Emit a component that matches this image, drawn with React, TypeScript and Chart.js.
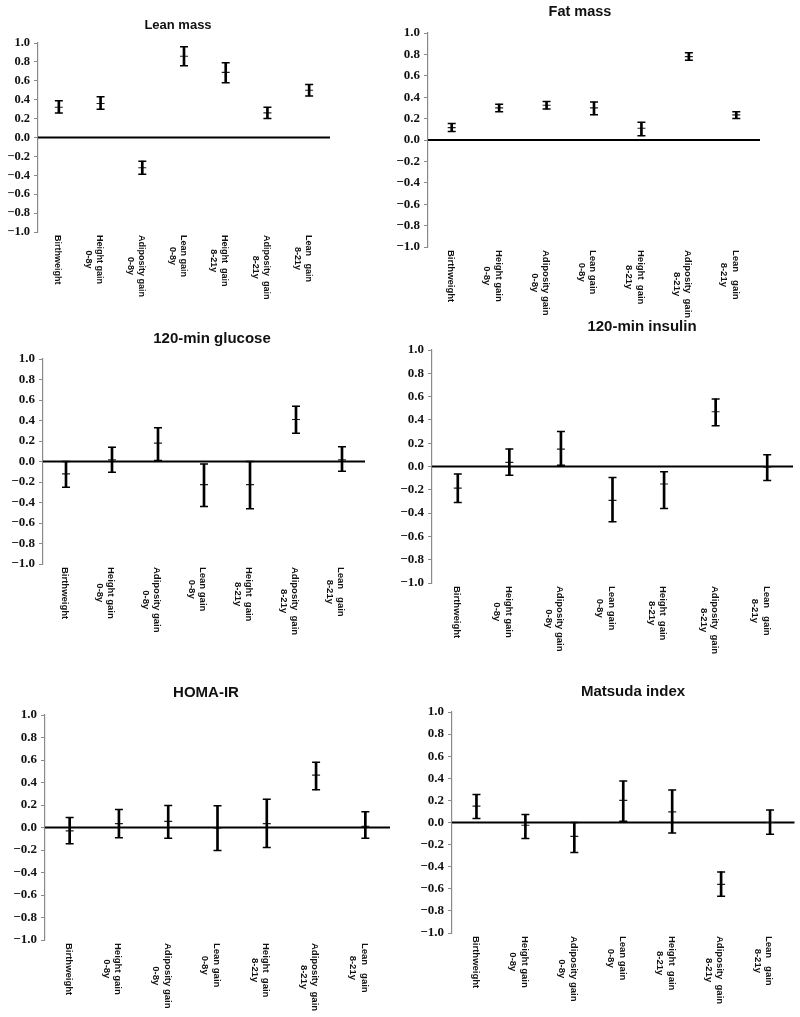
import React, { useEffect, useRef } from "react";
import { Chart, registerables } from "chart.js";

Chart.register(...registerables);

// ---- data ----
const categories: string[][] = [
  ["Birthweight"],
  ["Height gain", "0-8y"],
  ["Adiposity gain", "0-8y"],
  ["Lean gain", "0-8y"],
  ["Height  gain", "8-21y"],
  ["Adiposity  gain", "8-21y"],
  ["Lean   gain", "8-21y"],
];
const yTicks = [-1.0, -0.8, -0.6, -0.4, -0.2, 0.0, 0.2, 0.4, 0.6, 0.8, 1.0];

const leanMassMean = [0.32, 0.36, -0.32, 0.86, 0.69, 0.26, 0.5];
const leanMassLow = [0.26, 0.3, -0.39, 0.76, 0.58, 0.2, 0.44];
const leanMassHigh = [0.39, 0.43, -0.25, 0.96, 0.79, 0.32, 0.56];

const fatMassMean = [0.115, 0.3, 0.325, 0.3, 0.11, 0.78, 0.235];
const fatMassLow = [0.08, 0.265, 0.29, 0.235, 0.04, 0.745, 0.2];
const fatMassHigh = [0.155, 0.335, 0.36, 0.355, 0.165, 0.815, 0.265];

const glucoseMean = [-0.12, 0.015, 0.18, -0.225, -0.225, 0.41, 0.015];
const glucoseLow = [-0.25, -0.105, 0.01, -0.44, -0.46, 0.275, -0.095];
const glucoseHigh = [0.0, 0.14, 0.33, -0.025, 0.0, 0.54, 0.145];

const insulinMean = [-0.185, 0.035, 0.15, -0.29, -0.15, 0.47, -0.005];
const insulinLow = [-0.31, -0.075, 0.01, -0.475, -0.36, 0.35, -0.12];
const insulinHigh = [-0.065, 0.15, 0.3, -0.095, -0.045, 0.58, 0.1];

const homaMean = [-0.03, 0.035, 0.055, -0.005, 0.035, 0.465, 0.01];
const homaLow = [-0.145, -0.09, -0.095, -0.205, -0.178, 0.335, -0.095];
const homaHigh = [0.09, 0.16, 0.196, 0.193, 0.252, 0.58, 0.14];

const matsudaMean = [0.148, -0.025, -0.125, 0.2, 0.097, -0.56, 0.0];
const matsudaLow = [0.036, -0.145, -0.272, 0.012, -0.094, -0.668, -0.106];
const matsudaHigh = [0.254, 0.073, 0.0, 0.375, 0.293, -0.447, 0.112];

// ---- layout (page coordinates) ----
const panels = [
  { title: "Lean mass", mean: leanMassMean, low: leanMassLow, high: leanMassHigh,
    left: 38, right: 330, top: 43, bottom: 232, titleX: 178, titleY: 25, titleSize: 13, labelSize: 9, tickSize: 12.5 },
  { title: "Fat mass", mean: fatMassMean, low: fatMassLow, high: fatMassHigh,
    left: 428, right: 760, top: 33, bottom: 247, titleX: 580, titleY: 12, titleSize: 14.5, labelSize: 9.5, tickSize: 13 },
  { title: "120-min glucose", mean: glucoseMean, low: glucoseLow, high: glucoseHigh,
    left: 43, right: 365, top: 359, bottom: 564, titleX: 212, titleY: 339, titleSize: 15, labelSize: 9.5, tickSize: 13 },
  { title: "120-min insulin", mean: insulinMean, low: insulinLow, high: insulinHigh,
    left: 432, right: 793, top: 350, bottom: 583, titleX: 642, titleY: 327, titleSize: 15, labelSize: 9.5, tickSize: 13 },
  { title: "HOMA-IR", mean: homaMean, low: homaLow, high: homaHigh,
    left: 45, right: 390, top: 715, bottom: 940, titleX: 206, titleY: 693, titleSize: 15, labelSize: 9.5, tickSize: 13 },
  { title: "Matsuda index", mean: matsudaMean, low: matsudaLow, high: matsudaHigh,
    left: 452, right: 797, top: 712, bottom: 933, titleX: 633, titleY: 692, titleSize: 15, labelSize: 9.5, tickSize: 13 },
];

const PAGE_W = 800;
const PAGE_H = 1017;
const Y_AXIS_W = 40;
const SANS = "'Liberation Sans', Arial, sans-serif";
const SERIF = "'Liberation Serif', 'Times New Roman', serif";

function fmt(v: number): string {
  if (Math.abs(v) < 1e-9) return "0.0";
  const s = Math.abs(v).toFixed(1);
  return v < 0 ? "\u2212" + s : s;
}

function Panel({ p }: { p: (typeof panels)[number] }) {
  const ref = useRef<HTMLCanvasElement | null>(null);
  useEffect(() => {
    if (!ref.current) return;
    const deco = {
      id: "deco",
      beforeDatasetsDraw(chart: any) {
        const { ctx, chartArea, scales } = chart;
        const y0 = scales.y.getPixelForValue(0);
        ctx.save();
        ctx.strokeStyle = "#000";
        ctx.lineWidth = 2;
        ctx.beginPath();
        ctx.moveTo(chartArea.left, y0);
        ctx.lineTo(chartArea.right, y0);
        ctx.stroke();
        ctx.restore();
      },
      afterDraw(chart: any) {
        const { ctx, chartArea, scales } = chart;
        ctx.save();
        ctx.fillStyle = "#111";
        ctx.font = `bold ${p.titleSize}px ${SANS}`;
        ctx.textAlign = "center";
        ctx.textBaseline = "middle";
        ctx.fillText(p.title, p.titleX, p.titleY);
        ctx.font = `bold ${p.labelSize}px ${SANS}`;
        ctx.textAlign = "left";
        const lh = p.labelSize * 1.2;
        categories.forEach((lines, i) => {
          const x = scales.x.getPixelForValue(i);
          const widths = lines.map((l) => ctx.measureText(l).width);
          const maxW = Math.max(...widths);
          ctx.save();
          ctx.translate(x - 1, chartArea.bottom + 3);
          ctx.rotate(Math.PI / 2);
          lines.forEach((l, j) => {
            ctx.fillText(l, (maxW - widths[j]) / 2, j * lh);
          });
          ctx.restore();
        });
        ctx.restore();
      },
    };
    const capStyle = {
      type: "line" as const,
      showLine: false,
      pointStyle: "line" as const,
      pointRadius: 4,
      pointHoverRadius: 4,
      pointBorderColor: "#000",
      pointBackgroundColor: "#000",
      pointBorderWidth: 1.5,
    };
    const chart = new Chart(ref.current, {
      type: "bar",
      data: {
        labels: categories.map((c) => c.join(" ")),
        datasets: [
          {
            type: "bar",
            data: p.low.map((l, i) => [l, p.high[i]]) as any,
            backgroundColor: "#000",
            borderWidth: 0,
            barThickness: 2,
          },
          { ...capStyle, data: p.high },
          { ...capStyle, data: p.low },
          { ...capStyle, data: p.mean, pointBorderWidth: 1.2, pointBorderColor: "#222" },
        ] as any,
      },
      options: {
        responsive: false,
        animation: false,
        devicePixelRatio: 1,
        events: [],
        layout: {
          padding: {
            left: p.left - Y_AXIS_W,
            right: PAGE_W - p.right,
            top: p.top,
            bottom: PAGE_H - p.bottom,
          },
        },
        plugins: {
          legend: { display: false },
          tooltip: { enabled: false },
          title: { display: false },
        },
        scales: {
          x: {
            type: "category",
            offset: true,
            grid: { display: false },
            border: { display: false },
            ticks: { display: false },
            afterFit: (s: any) => {
              s.height = 0;
            },
          },
          y: {
            type: "linear",
            min: yTicks[0],
            max: yTicks[yTicks.length - 1],
            afterFit: (s: any) => {
              s.width = Y_AXIS_W;
            },
            afterBuildTicks: (s: any) => {
              s.ticks = yTicks.map((v) => ({ value: v }));
            },
            grid: {
              display: true,
              drawOnChartArea: false,
              drawTicks: true,
              tickLength: 4,
              tickColor: "#8a8a8a",
              tickWidth: 1,
            },
            border: { display: true, color: "#8a8a8a", width: 1.2 },
            ticks: {
              padding: 4,
              color: "#111",
              font: { family: SERIF, size: p.tickSize, weight: "bold" },
              callback: (v: any) => fmt(Number(v)),
            },
          },
        },
      } as any,
      plugins: [deco],
    });
    return () => chart.destroy();
  }, [p]);
  return (
    <canvas
      ref={ref}
      width={PAGE_W}
      height={PAGE_H}
      style={{ position: "absolute", left: 0, top: 0, width: PAGE_W, height: PAGE_H }}
    />
  );
}

export default function App() {
  return (
    <div style={{ position: "absolute", left: 0, top: 0, width: PAGE_W, height: PAGE_H, background: "#fff" }}>
      {panels.map((p) => (
        <Panel key={p.title} p={p} />
      ))}
    </div>
  );
}
